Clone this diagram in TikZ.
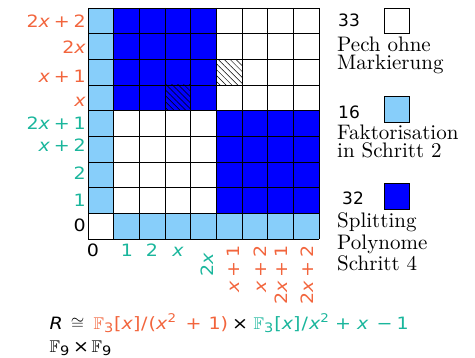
\documentclass[tikz,border=0pt]{standalone}
\usepackage{amssymb}
\usepackage{fontspec}
\newfontfamily\dvs{DejaVu Sans}
\newfontfamily\dvsw{DejaVu Sans}[FakeStretch=1.12]
\newfontfamily\lmten{lmroman10-regular.otf}
\usetikzlibrary{patterns.meta}
\definecolor{orng}{RGB}{242,101,61}
\definecolor{tealc}{RGB}{26,182,156}
\definecolor{lblue}{RGB}{135,206,250}
\newcommand\vx{\textit{x}}
\newcommand\gp{\hspace{3.8pt}}
\newcommand\pls{\gp+\gp}
\newcommand\lsub[1]{\raisebox{-3.5pt}{\fontsize{13}{13}\selectfont #1}}
\newcommand\lsup[1]{\raisebox{6.5pt}{\fontsize{12}{12}\selectfont #1}}
\newcommand\FF{$\mathbb{F}$}
\tikzset{
  lab/.style={inner sep=0pt, font=\dvsw\fontsize{17}{20}\selectfont},
  rlab/.style={lab, anchor=east},
  clab/.style={lab, anchor=base},
  vlab/.style={lab, anchor=east, rotate=90},
  fw/.style={lab, anchor=base west},
  fc/.style={lab, anchor=base},
  legbox/.style={draw, line width=0.8pt, minimum size=25.67pt, inner sep=0pt},
  legnum/.style={inner sep=0pt, font=\dvs\fontsize{17}{20}\selectfont, anchor=base west},
  legtxt/.style={inner sep=0pt, anchor=base west, font=\lmten\fontsize{21}{24}\selectfont},
  gridline/.style={line width=0.8pt},
  hatch/.style={pattern={Lines[angle=-45,distance=4.2pt,line width=0.5pt]}, pattern color=black}
}
\begin{document}
\begin{tikzpicture}[x=1pt,y=-1pt]
\useasboundingbox (0,0) rectangle (475,358);
\def\cs{25.667}
% fills
\fill[lblue] (88,8) rectangle (88+\cs,8+8*\cs);
\fill[lblue] (88+\cs,8+8*\cs) rectangle (319,239);
\fill[blue] (88+\cs,8) rectangle (88+5*\cs,8+4*\cs);
\fill[blue] (88+5*\cs,8+4*\cs) rectangle (319,8+8*\cs);
\fill[hatch] (88+3*\cs,8+3*\cs) rectangle ++(\cs,\cs);
\fill[hatch] (88+5*\cs,8+2*\cs) rectangle ++(\cs,\cs);
% grid
\foreach \k in {0,...,9}{
  \draw[gridline] (88+\k*\cs,8) -- (88+\k*\cs,239);
  \draw[gridline] (88,8+\k*\cs) -- (319,8+\k*\cs);
}
% row labels
\node[rlab, text=orng] (r8) at (86,21) {2\vx\pls 2};
\node[rlab, text=orng] (r7) at (86,47) {2\vx};
\node[rlab, text=orng] (r6) at (86,76) {\vx\pls 1};
\node[rlab, text=orng] (r5) at (86,102) {\vx};
\node[rlab, text=tealc] (r4) at (86,123) {2\vx\pls 1};
\node[rlab, text=tealc] (r3) at (86,145) {\vx\pls 2};
\node[rlab, text=tealc] (r2) at (86,173) {2};
\node[rlab, text=tealc] (r1) at (86,200) {1};
\node[rlab] (r0) at (86,225) {0};
% column labels
\node[clab] (c0) at (93,257) {0};
\node[clab, text=tealc] (c1) at (127,257) {1};
\node[clab, text=tealc] (c2) at (152,257) {2};
\node[clab, text=tealc] (c3) at (178,257) {\vx};
\node[vlab, text=tealc] (c4) at (206.7,253) {2\vx};
\node[vlab, text=orng] (c5) at (233.3,245) {\vx\pls 1};
\node[vlab, text=orng] (c6) at (260,245) {\vx\pls 2};
\node[vlab, text=orng] (c7) at (281,245) {2\vx\pls 1};
\node[vlab, text=orng] (c8) at (307.5,245) {2\vx\pls 2};
% legend
\node[legnum] (n1) at (338,26.7) {33};
\node[legbox, fill=white] (b1) at (397,21) {};
\node[legtxt] (t1a) at (337,51.7) {Pech ohne};
\node[legtxt] (t1b) at (337,70) {Markierung};
\node[legnum] (n2) at (338,118.3) {16};
\node[legbox, fill=lblue] (b2) at (397,109.5) {};
\node[legtxt] (t2a) at (337,139.3) {Faktorisation};
\node[legtxt] (t2b) at (337,157.3) {in Schritt 2};
\node[legnum] (n3) at (342,205) {32};
\node[legbox, fill=blue] (b3) at (397,196.5) {};
\node[legtxt] (t3a) at (337,228) {Splitting};
\node[legtxt] (t3b) at (337,249.3) {Polynome};
\node[legtxt] (t3c) at (337,270.7) {Schritt 4};
% formula, line 1
\node[fw] (fR) at (49.5,329.3) {\textit{R}};
\node[fc] (fcong) at (77.5,329.3) {$\cong$};
\node[fw, text=orng] (fo1) at (93.5,329.3) {\FF\lsub{3}\kern0.8pt[\vx]\kern0.8pt/\kern1pt(\vx\lsup{2}};
\node[fc, text=orng] (fo2) at (193.5,329.3) {+};
\node[fw, text=orng] (fo3) at (208.3,329.3) {1)};
\node[fc] (ftimes) at (240,329.3) {×};
\node[fw, text=tealc] (ft1) at (253.5,329.3) {\FF\lsub{3}\kern1pt[\vx]\kern1pt/\kern1pt\vx\lsup{2}};
\node[fc, text=tealc] (ft2) at (343,329.3) {+};
\node[fw, text=tealc] (ft3) at (357,329.3) {\vx};
\node[fc, text=tealc] (ft4) at (384.5,329.3) {−};
\node[fw, text=tealc] (ft5) at (396.3,329.3) {1};
% formula, line 2
\node[fw] (g1) at (49.5,352.5) {\FF\lsub{9}};
\node[fc] (g2) at (81,352.5) {×};
\node[fw] (g3) at (91.5,352.5) {\FF\lsub{9}};
\end{tikzpicture}
\end{document}
